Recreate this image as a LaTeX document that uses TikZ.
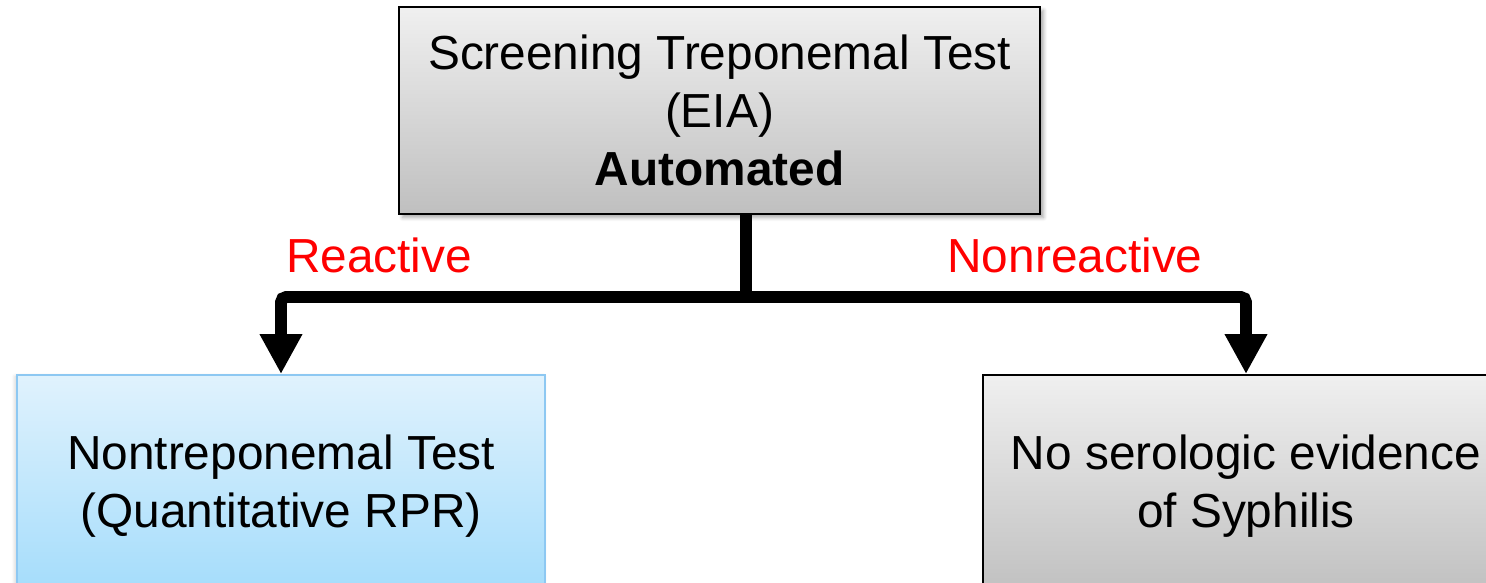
\documentclass[tikz,border=0pt]{standalone}
\usepackage{fontspec}
\setmainfont{Liberation Sans}
\usetikzlibrary{arrows.meta, shadows.blur}
\definecolor{boxblue}{HTML}{8DC8F2}
\definecolor{bluetop}{HTML}{E0F2FD}
\definecolor{bluebot}{HTML}{A3DCFB}

\begin{document}
\begin{tikzpicture}[%
    every node/.style = {font=\fontsize{27.2}{33}\selectfont, align=center, inner sep=0pt},
    graybox/.style = {draw=black, line width=1.1pt, top color=black!6, bottom color=black!25,
        blur shadow={shadow xshift=2pt, shadow yshift=-2pt, shadow blur steps=6, shadow opacity=35}},
    bluebox/.style = {draw=boxblue, line width=1.1pt, top color=bluetop, bottom color=bluebot,
        blur shadow={shadow xshift=-1pt, shadow yshift=-1pt, shadow blur steps=4, shadow opacity=20}},
    result/.style = {text=red},
    flow/.style = {line width=6.8pt, rounded corners=3pt, -{Triangle[length=0.8cm, width=0.8cm]}}
]
\useasboundingbox (0,0) rectangle (29.72,11.66);

\node (screen) [graybox, minimum width=12.82cm, minimum height=4.14cm] at (14.39,9.45)
    {Screening Treponemal Test\\(EIA)\\\textbf{Automated}};
\node (nontrep) [bluebox, minimum width=10.56cm, minimum height=4.44cm] at (5.62,1.94)
    {Nontreponemal Test\\(Quantitative RPR)};
\node (noevid) [graybox, minimum width=10.52cm, minimum height=4.44cm] at (24.92,1.94)
    {No serologic evidence\\of Syphilis};

\node (reac) [result] at (7.58,6.56) {Reactive};
\node (nonreac) [result] at (21.5,6.56) {Nonreactive};

\coordinate (split) at (14.92,5.72);
\draw[line width=6.8pt] (screen.south -| split) -- (split);
\draw[flow] (split) -| (nontrep.north);
\draw[flow] (split) -| (noevid.north);
\end{tikzpicture}
\end{document}
